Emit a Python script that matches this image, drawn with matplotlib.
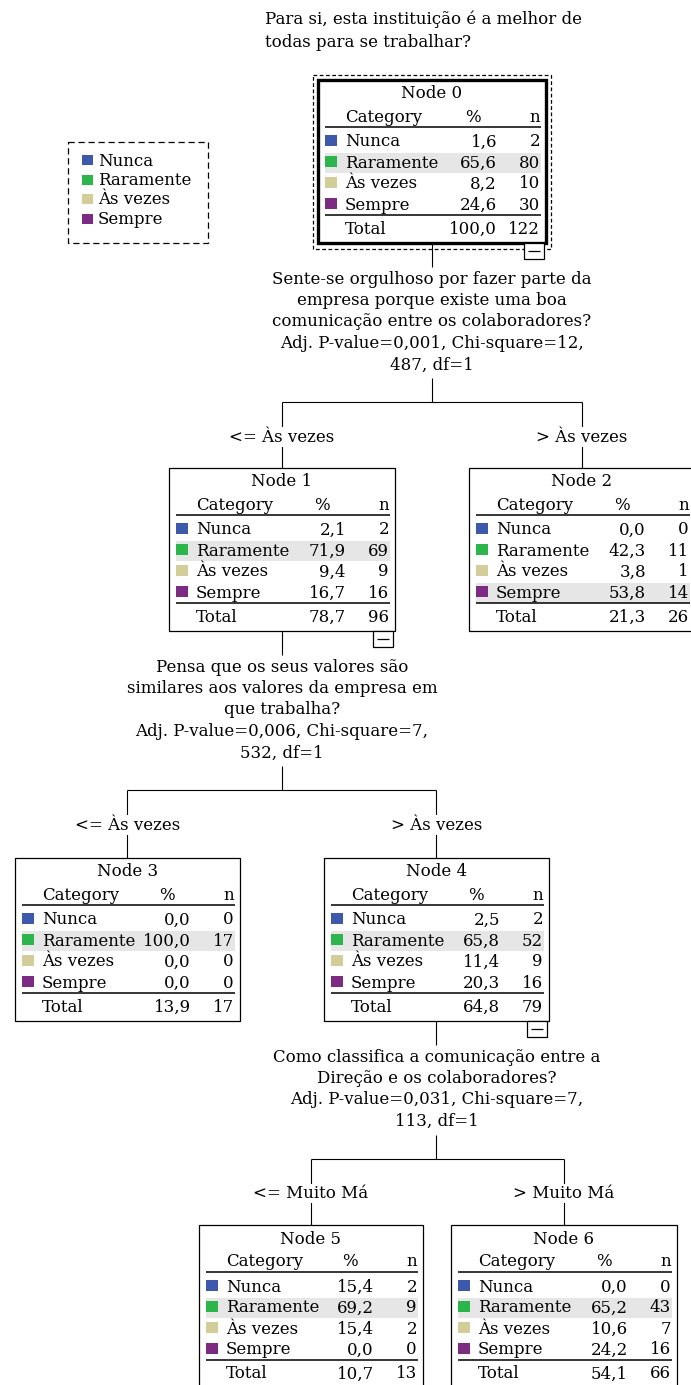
import matplotlib
matplotlib.use("Agg")
import matplotlib.pyplot as plt
from matplotlib.patches import Rectangle

# categories and colours
categories = ["Nunca", "Raramente", "Às vezes", "Sempre"]
cat_colors = ["#3d59ab", "#2bb54a", "#d3cd99", "#7d2b82"]

# node tables (%, n)
node_pct = [
    [1.6, 65.6, 8.2, 24.6],
    [2.1, 71.9, 9.4, 16.7],
    [0.0, 42.3, 3.8, 53.8],
    [0.0, 100.0, 0.0, 0.0],
    [2.5, 65.8, 11.4, 20.3],
    [15.4, 69.2, 15.4, 0.0],
    [0.0, 65.2, 10.6, 24.2],
]
node_n = [
    [2, 80, 10, 30],
    [2, 69, 9, 16],
    [0, 11, 1, 14],
    [0, 17, 0, 0],
    [2, 52, 9, 16],
    [2, 9, 2, 0],
    [0, 43, 7, 16],
]
total_pct = [100.0, 78.7, 21.3, 13.9, 64.8, 10.7, 54.1]
total_n = [122, 96, 26, 17, 79, 13, 66]

title_text = "Para si, esta instituição é a melhor de\ntodas para se trabalhar?"

split_text = [
    ["Sente-se orgulhoso por fazer parte da",
     "empresa porque existe uma boa",
     "comunicação entre os colaboradores?",
     "Adj. P-value=0,001, Chi-square=12,",
     "487, df=1"],
    ["Pensa que os seus valores são",
     "similares aos valores da empresa em",
     "que trabalha?",
     "Adj. P-value=0,006, Chi-square=7,",
     "532, df=1"],
    ["Como classifica a comunicação entre a",
     "Direção e os colaboradores?",
     "Adj. P-value=0,031, Chi-square=7,",
     "113, df=1"],
]
branch_labels = [
    ["<= Às vezes", "> Às vezes"],
    ["<= Às vezes", "> Às vezes"],
    ["<= Muito Má", "> Muito Má"],
]
split_parent = [0, 1, 4]
split_children = [[1, 2], [3, 4], [5, 6]]

# layout in pixels: left, top, width
node_box = {0: (318, 80, 228), 1: (169, 468, 226), 2: (469, 468, 226),
            3: (15, 858, 225), 4: (324, 858, 225),
            5: (199, 1225, 224), 6: (451, 1225, 226)}
BOX_H = 163

FONT = "DejaVu Serif"
FS = 12
W_PX, H_PX = 691, 1385

fig = plt.figure(figsize=(W_PX / 100, H_PX / 100), dpi=100)
ax = fig.add_axes([0, 0, 1, 1])
ax.set_xlim(0, W_PX)
ax.set_ylim(H_PX, 0)
ax.axis("off")


def fmt(v):
    return f"{v:.1f}".replace(".", ",")


def txt(x, y, s, ha="left", **kw):
    ax.text(x, y, s, ha=ha, va="center", family=FONT, fontsize=FS, color="black", **kw)


def hline(x0, x1, y, lw=0.8, **kw):
    ax.plot([x0, x1], [y, y], color="black", lw=lw, solid_capstyle="butt", **kw)


def vline(x, y0, y1, lw=0.8):
    ax.plot([x, x], [y0, y1], color="black", lw=lw, solid_capstyle="butt")


def draw_node(i, minus=False):
    L, T, W = node_box[i]
    R = L + W
    thick = i == 0
    ax.add_patch(Rectangle((L, T), W, BOX_H, facecolor="white", edgecolor="black",
                           lw=2.4 if thick else 0.9, zorder=2))
    if thick:
        ax.add_patch(Rectangle((L - 5, T - 5), W + 10, BOX_H + 11, fill=False,
                               edgecolor="black", lw=0.9, ls=(0, (3, 2)), zorder=1))
    z = 3
    txt(L + W / 2, T + 14, f"Node {i}", ha="center", zorder=z)
    txt(L + 27, T + 37, "Category", zorder=z)
    txt(R - 73, T + 37, "%", ha="center", zorder=z)
    txt(R - 6, T + 37, "n", ha="right", zorder=z)
    hline(L + 7, R - 5, T + 47, lw=1.1, zorder=z)
    best = max(range(len(categories)), key=lambda k: node_pct[i][k])
    for k, cat in enumerate(categories):
        y = T + 62 + 21 * k
        if k == best:
            ax.add_patch(Rectangle((L + 7, y - 10), W - 12, 20, facecolor="#e6e6e6",
                                   edgecolor="none", zorder=2.5))
        ax.add_patch(Rectangle((L + 7, y - 7), 12, 11, facecolor=cat_colors[k],
                               edgecolor="none", zorder=z))
        txt(L + 27, y, cat, zorder=z)
        txt(R - 49, y, fmt(node_pct[i][k]), ha="right", zorder=z)
        txt(R - 6, y, str(node_n[i][k]), ha="right", zorder=z)
    hline(L + 7, R - 5, T + 135, lw=1.1, zorder=z)
    txt(L + 27, T + 149, "Total", zorder=z)
    txt(R - 49, T + 149, fmt(total_pct[i]), ha="right", zorder=z)
    txt(R - 6, T + 149, str(total_n[i]), ha="right", zorder=z)
    if minus:
        B = T + BOX_H
        ax.add_patch(Rectangle((R - 22, B), 20, 16, facecolor="white",
                               edgecolor="black", lw=0.9, zorder=z))
        hline(R - 18, R - 6, B + 8, lw=0.9, zorder=z + 1)


def draw_split(s):
    p = split_parent[s]
    L, T, W = node_box[p]
    cx = L + W / 2
    B = T + BOX_H
    vline(cx, B, B + 24)
    y0 = B + 36
    lines = split_text[s]
    for j, line in enumerate(lines):
        txt(cx, y0 + 21.5 * j, line, ha="center")
    y_end = y0 + 21.5 * (len(lines) - 1) + 13
    bar_y = y_end + 24
    vline(cx, y_end, bar_y)
    kids = split_children[s]
    xs = [node_box[c][0] + node_box[c][2] / 2 for c in kids]
    hline(xs[0], xs[1], bar_y)
    ctop = node_box[kids[0]][1]
    for x, lab in zip(xs, branch_labels[s]):
        vline(x, bar_y, ctop)
        ax.text(x, bar_y + 35, lab, ha="center", va="center", family=FONT,
                fontsize=FS, zorder=3,
                bbox=dict(facecolor="white", edgecolor="none", pad=1))


# title
ax.text(265, 11, title_text, ha="left", va="top", family=FONT, fontsize=FS,
        linespacing=1.4)

# legend
ax.add_patch(Rectangle((68, 142), 140, 101, fill=False, edgecolor="black",
                       lw=0.9, ls=(0, (5, 3))))
for k, cat in enumerate(categories):
    y = 161 + 19.5 * k
    ax.add_patch(Rectangle((82, y - 6), 11, 10, facecolor=cat_colors[k], edgecolor="none"))
    txt(98, y, cat)

for s in range(len(split_parent)):
    draw_split(s)
for i in range(len(node_pct)):
    draw_node(i, minus=i in split_parent)

fig.savefig("out.png", dpi=100)
